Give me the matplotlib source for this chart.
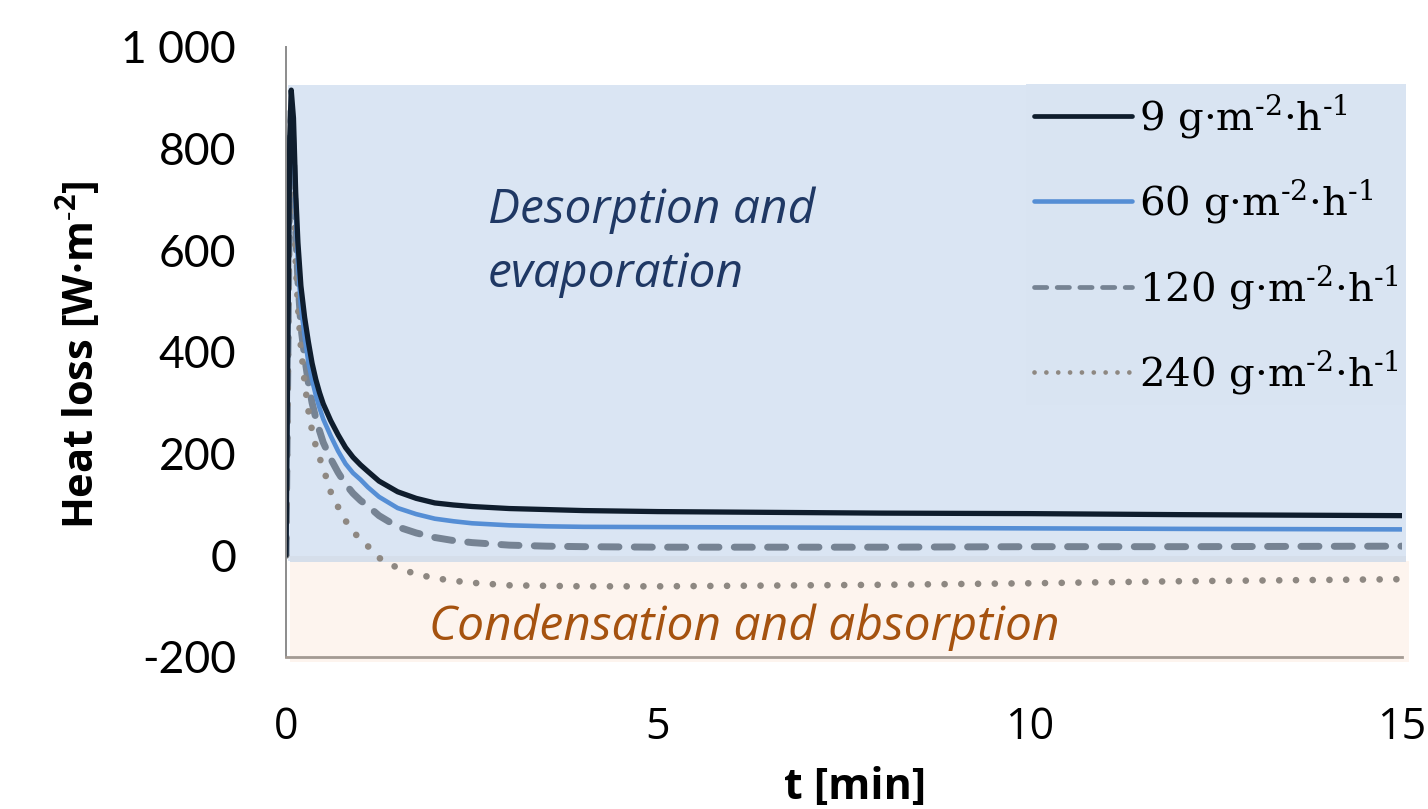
import matplotlib
matplotlib.use("Agg")
import matplotlib.pyplot as plt
from matplotlib.patches import Rectangle

# Time axis [min] and heat loss [W/m2] for four moisture loads
t_min = [0, 0.03, 0.05, 0.07, 0.1, 0.13, 0.16, 0.2, 0.25, 0.3,
         0.35, 0.4, 0.45, 0.5, 0.6, 0.7, 0.8, 0.9, 1.0, 1.1,
         1.25, 1.5, 1.75, 2.0, 2.25, 2.5, 3.0, 3.5, 4.0, 5.0,
         6.0, 8.0, 10.0, 12.0, 15.0]
loss_9 = [0, 500, 820, 915, 860, 713, 615, 530, 468, 420,
          378, 346, 320, 298, 265, 237, 212, 193, 178, 165,
          146, 125, 112, 103, 99, 96, 92, 90, 88, 86,
          85, 83, 82, 80, 78]
loss_60 = [0, 480, 800, 895, 830, 680, 575, 490, 430, 380,
           345, 315, 290, 268, 235, 205, 180, 162, 149, 134,
           115, 93, 81, 72, 67, 63, 59, 57, 56, 55.5,
           55, 54, 53, 52, 51]
loss_120 = [0, 470, 790, 875, 790, 640, 540, 450, 390, 340,
            300, 270, 245, 222, 190, 163, 140, 122, 108, 97,
            78, 56, 44, 35, 29, 25, 20, 18, 17, 16,
            16, 16, 17, 17, 18]
loss_240 = [0, 460, 780, 865, 750, 580, 490, 410, 340, 285,
            245, 215, 192, 172, 125, 95, 68, 48, 30, 18,
            -5, -25, -37, -45, -50, -54, -59, -60, -61, -61,
            -60, -58, -55, -51, -47]

SUP = r"$^{\mathregular{‐%s}}$"
series_labels = [
    "9 g·m" + SUP % "2" + "·h" + SUP % "1",
    "60 g·m" + SUP % "2" + "·h" + SUP % "1",
    "120 g·m" + SUP % "2" + "·h" + SUP % "1",
    "240 g·m" + SUP % "2" + "·h" + SUP % "1",
]
x_ticks = [0, 5, 10, 15]
y_ticks = [-200, 0, 200, 400, 600, 800, 1000]
y_tick_labels = ["-200", "0", "200", "400", "600", "800", "1 000"]

# Bands marking the two regimes
desorb_band = (-12, 925)
condense_band = (-210, -12)

fig = plt.figure(figsize=(14.28, 8.09), dpi=100)
ax = fig.add_axes([0.2003, 0.1879, 0.7815, 0.7541])
ax.set_xlim(0, 15)
ax.set_ylim(-200, 1000)

ax.add_patch(Rectangle((0.03, desorb_band[0]), 15.02, desorb_band[1] - desorb_band[0],
                       facecolor="#dae5f3", edgecolor="none", zorder=0, clip_on=False))
ax.add_patch(Rectangle((0.05, -13), 15.0, 11,
                       facecolor="#d5deea", edgecolor="none", zorder=0.5, clip_on=False))
ax.add_patch(Rectangle((0.05, condense_band[0]), 15.05, condense_band[1] - condense_band[0],
                       facecolor="#fdf4ee", edgecolor="none", zorder=0, clip_on=False))

ax.plot(t_min, loss_9, color="#0f1d2d", lw=3.8, solid_capstyle="round",
        solid_joinstyle="round", label=series_labels[0], zorder=4)
ax.plot(t_min, loss_60, color="#558ed5", lw=3.3, solid_capstyle="round",
        solid_joinstyle="round", label=series_labels[1], zorder=3)
ax.plot(t_min, loss_120, color="#768393", lw=5.0, dashes=(2.6, 2.2),
        dash_capstyle="round", label=series_labels[2], zorder=2)
ax.plot(t_min, loss_240, color="#8e8882", lw=4.8, dashes=(0.01, 2.5),
        dash_capstyle="round", label=series_labels[3], zorder=2)

# Axes styling
for side in ("top", "right"):
    ax.spines[side].set_visible(False)
ax.spines["left"].set_color("#8c8c8c")
ax.spines["left"].set_linewidth(1.4)
ax.spines["bottom"].set_color("#a39a93")
ax.spines["bottom"].set_linewidth(2.0)
ax.spines["left"].set_zorder(5)
ax.spines["bottom"].set_zorder(5)

ax.set_xticks(x_ticks)
ax.set_xticklabels([str(v) for v in x_ticks], fontfamily="Open Sans", fontsize=31)
ax.set_yticks(y_ticks)
ax.set_yticklabels(y_tick_labels, fontfamily="Lato", fontsize=32)
ax.tick_params(axis="x", length=0, pad=35)
ax.tick_params(axis="y", length=0, pad=36)

fig.text(0.056, 0.562, "Heat loss [W·m" + r"$^{\mathregular{‐2}}$" + "]", rotation=90,
         ha="center", va="center", fontfamily="Open Sans", fontweight="bold", fontsize=30)
fig.text(0.599, 0.027, "t [min]", ha="center", va="center",
         fontfamily="Open Sans", fontweight="bold", fontsize=31)

# Regime annotations
note_kw = dict(transform=ax.transAxes, ha="left", va="baseline",
               fontfamily="Open Sans", fontstyle="italic", fontsize=34.5)
ax.text(0.181, 0.711, "Desorption and", color="#1f3864", **note_kw)
ax.text(0.181, 0.607, "evaporation", color="#1f3864", **note_kw)
ax.text(0.128, 0.028, "Condensation and absorption", color="#a5520f", **note_kw)

leg = ax.legend(loc="upper right", bbox_to_anchor=(1.004, 0.939),
                prop={"family": "DejaVu Serif", "size": 29},
                handlelength=2.45, handletextpad=0.15, labelspacing=0.92,
                borderpad=0.2, borderaxespad=0, frameon=True, fancybox=False)
leg.get_frame().set_facecolor("#d9e4f2")
leg.get_frame().set_edgecolor("none")
leg.get_frame().set_alpha(1)
leg.set_zorder(6)
for line in leg.get_lines():
    line.set_linewidth(min(line.get_linewidth(), 3.4))

fig.savefig("out.png", dpi=100)
